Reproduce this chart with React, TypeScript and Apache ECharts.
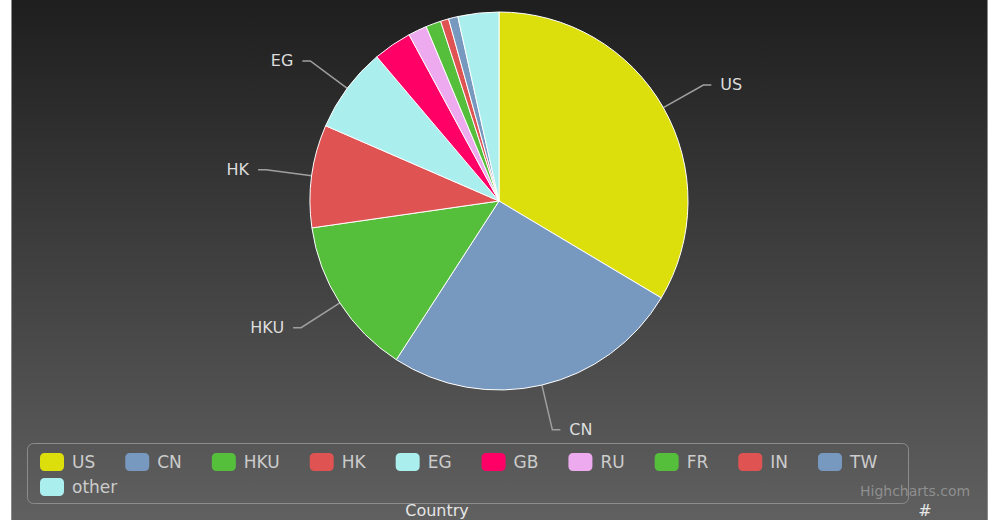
import React, { useEffect, useRef } from "react";
import * as echarts from "echarts";

const categories = ["US", "CN", "HKU", "HK", "EG", "GB", "RU", "FR", "IN", "TW", "other"];
const counts = [336, 256, 136, 88, 73, 33, 16, 13, 7, 8, 35];
const sliceColors = [
  "#DDDF0D", "#7798BF", "#55BF3B", "#DF5353", "#aaeeee",
  "#ff0066", "#eeaaee", "#55BF3B", "#DF5353", "#7798BF", "#aaeeee",
];
const labeledCategories = ["US", "CN", "HKU", "HK", "EG"];
const firstRowLegend = categories.slice(0, 10);
const secondRowLegend = categories.slice(10);
const xAxisTitle = "Country";
const yAxisTitle = "#";
const creditText = "Highcharts.com";

const FONT = "DejaVu Sans";

export default function App() {
  const ref = useRef<HTMLDivElement>(null);

  useEffect(() => {
    if (!ref.current) return;
    const chart = echarts.init(ref.current, undefined, { renderer: "svg" });

    const data = categories.map((name, i) => {
      const show = labeledCategories.includes(name);
      return {
        name,
        value: counts[i],
        itemStyle: { color: sliceColors[i] },
        label: { show },
        labelLine: { show },
      };
    });

    const legendCommon = {
      left: 40,
      orient: "horizontal" as const,
      padding: 0,
      itemWidth: 24,
      itemHeight: 18,
      itemGap: 30,
      icon: "roundRect",
      selectedMode: false,
      itemStyle: { borderWidth: 0 },
      textStyle: {
        color: "#cccccc",
        fontSize: 17,
        fontFamily: FONT,
        padding: [0, 0, 0, 3],
      },
    };

    chart.setOption({
      animation: false,
      backgroundColor: "transparent",
      color: sliceColors,
      graphic: [
        {
          type: "rect",
          z: -10,
          silent: true,
          shape: { x: 11.5, y: -2, width: 976, height: 530 },
          style: {
            fill: {
              type: "linear",
              x: 0, y: 0, x2: 0, y2: 1,
              colorStops: [
                { offset: 0, color: "#1e1e1e" },
                { offset: 1, color: "#616161" },
              ],
            },
            stroke: "#8a8a8a",
            lineWidth: 1,
          },
        },
        {
          type: "rect",
          z: -5,
          silent: true,
          shape: { x: 27.5, y: 443.5, width: 881, height: 60, r: 6 },
          style: { fill: "transparent", stroke: "#8c8c8c", lineWidth: 1 },
        },
        {
          type: "text",
          x: 860,
          y: 484,
          silent: true,
          style: {
            text: creditText,
            fill: "#8f8f8f",
            fontSize: 14,
            fontFamily: FONT,
          },
        },
        {
          type: "text",
          x: 437,
          y: 502,
          silent: true,
          style: {
            text: xAxisTitle,
            fill: "#e6e6e6",
            fontSize: 16,
            fontFamily: FONT,
            align: "center",
          },
        },
        {
          type: "text",
          x: 925,
          y: 502,
          silent: true,
          style: {
            text: yAxisTitle,
            fill: "#e6e6e6",
            fontSize: 16,
            fontFamily: FONT,
            align: "center",
          },
        },
      ],
      legend: [
        { ...legendCommon, top: 453, data: firstRowLegend },
        { ...legendCommon, top: 478, data: secondRowLegend },
      ],
      series: [
        {
          type: "pie",
          center: [499, 201],
          radius: 189,
          startAngle: 90,
          clockwise: true,
          avoidLabelOverlap: false,
          itemStyle: { borderColor: "#ffffff", borderWidth: 1 },
          label: {
            show: true,
            position: "outside",
            formatter: "{b}",
            color: "#dddddd",
            fontSize: 16,
            fontFamily: FONT,
            distanceToLabelLine: 9,
          },
          labelLine: {
            show: true,
            length: 46,
            length2: 8,
            smooth: false,
            lineStyle: { color: "#a0a0a0", width: 1.5 },
          },
          emphasis: { disabled: true },
          data,
        },
      ],
    });

    return () => chart.dispose();
  }, []);

  return (
    <div
      ref={ref}
      style={{ position: "absolute", left: 0, top: 0, width: 990, height: 520 }}
    />
  );
}
